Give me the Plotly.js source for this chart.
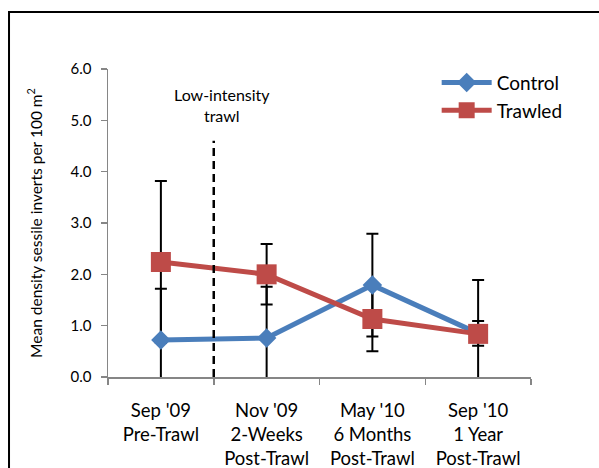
<!DOCTYPE html>
<html>
<head>
<meta charset="utf-8">
<script src="https://cdn.plot.ly/plotly-3.0.1.min.js"></script>
<style>html,body{margin:0;padding:0;background:#fff;}#chart{width:599px;height:468px;}</style>
</head>
<body>
<div id="chart"></div>
<script>
const categories = ["Sep '09<br>Pre-Trawl", "Nov '09<br>2-Weeks<br>Post-Trawl", "May '10<br>6 Months<br>Post-Trawl", "Sep '10<br>1 Year<br>Post-Trawl"];
const controlMean = [0.72, 0.76, 1.79, 0.85];
const controlErr = [1.00, 1.00, 1.00, 0.24];
const trawledMean = [2.24, 2.00, 1.13, 0.84];
const trawledErr = [1.58, 0.59, 0.63, 1.05];
const trawlEventX = 0.5;
const trawlEventTop = 4.6;
const yTicks = [0, 1, 2, 3, 4, 5, 6];

const BLUE = '#4A7EBB', RED = '#BE4B48';
const FONT = 'Lato, "Open Sans", sans-serif';

const errStyle = (arr) => ({type: 'data', array: arr, symmetric: true, visible: true, color: '#000', thickness: 2, width: 6});

const traces = [
  {x: categories, y: controlMean, type: 'scatter', mode: 'markers', showlegend: false, hoverinfo: 'skip',
   marker: {size: 1, color: 'rgba(0,0,0,0)'}, error_y: errStyle(controlErr)},
  {x: categories, y: trawledMean, type: 'scatter', mode: 'markers', showlegend: false, hoverinfo: 'skip',
   marker: {size: 1, color: 'rgba(0,0,0,0)'}, error_y: errStyle(trawledErr)},
  {x: categories, y: controlMean, type: 'scatter', mode: 'lines+markers', name: 'Control',
   line: {color: BLUE, width: 5}, marker: {symbol: 'diamond', size: 15, color: BLUE}},
  {x: categories, y: trawledMean, type: 'scatter', mode: 'lines+markers', name: 'Trawled',
   line: {color: RED, width: 5}, marker: {symbol: 'square', size: 20, color: RED}}
];

const layout = {
  width: 599, height: 468,
  margin: {l: 108, r: 68, t: 69, b: 91, pad: 0},
  paper_bgcolor: '#fff', plot_bgcolor: '#fff',
  font: {family: FONT, color: '#000'},
  showlegend: true,
  legend: {x: 0.777, y: 1.017, xanchor: 'left', yanchor: 'top', bgcolor: 'rgba(0,0,0,0)',
           font: {family: FONT, size: 19, color: '#000'}, itemwidth: 50, tracegroupgap: 0},
  xaxis: {type: 'category', showline: true, linecolor: '#868686', linewidth: 1.5,
          ticks: 'outside', tickson: 'boundaries', ticklen: 6, tickcolor: '#868686', tickwidth: 1.5,
          showgrid: false, zeroline: false, tickfont: {family: FONT, size: 18.5, color: '#000'},
          ticklabelstandoff: 16,
          range: [-0.5, 3.5], fixedrange: true},
  yaxis: {range: [0, 6], tickvals: yTicks, tickformat: '.1f', showline: true, linecolor: '#868686', linewidth: 1.5,
          ticks: 'outside', ticklen: 6, tickcolor: '#868686', tickwidth: 1.5, ticklabelstandoff: 6,
          showgrid: false, zeroline: false, tickfont: {family: FONT, size: 15, color: '#000'},
          title: {text: 'Mean density sessile inverts per 100 m<sup>2</sup>', font: {family: FONT, size: 15.5, color: '#000'}, standoff: 24}},
  shapes: [
    {type: 'line', xref: 'x', yref: 'y', x0: trawlEventX, x1: trawlEventX, y0: 0, y1: trawlEventTop,
     line: {color: '#000', width: 2.5, dash: '8px,5px'}, layer: 'above'},
    {type: 'rect', xref: 'paper', yref: 'paper', x0: -0.234, x1: 1.5, y0: -0.6, y1: 1.185,
     line: {color: '#000', width: 2}, fillcolor: 'rgba(0,0,0,0)', layer: 'below'}
  ],
  annotations: [
    {xref: 'x', yref: 'y', x: 0.58, y: 5.3, text: 'Low-intensity<br>trawl', showarrow: false,
     font: {family: FONT, size: 16, color: '#000'}, align: 'center'}
  ]
};

Plotly.newPlot('chart', traces, layout, {displayModeBar: false, staticPlot: true});
</script>
</body>
</html>
